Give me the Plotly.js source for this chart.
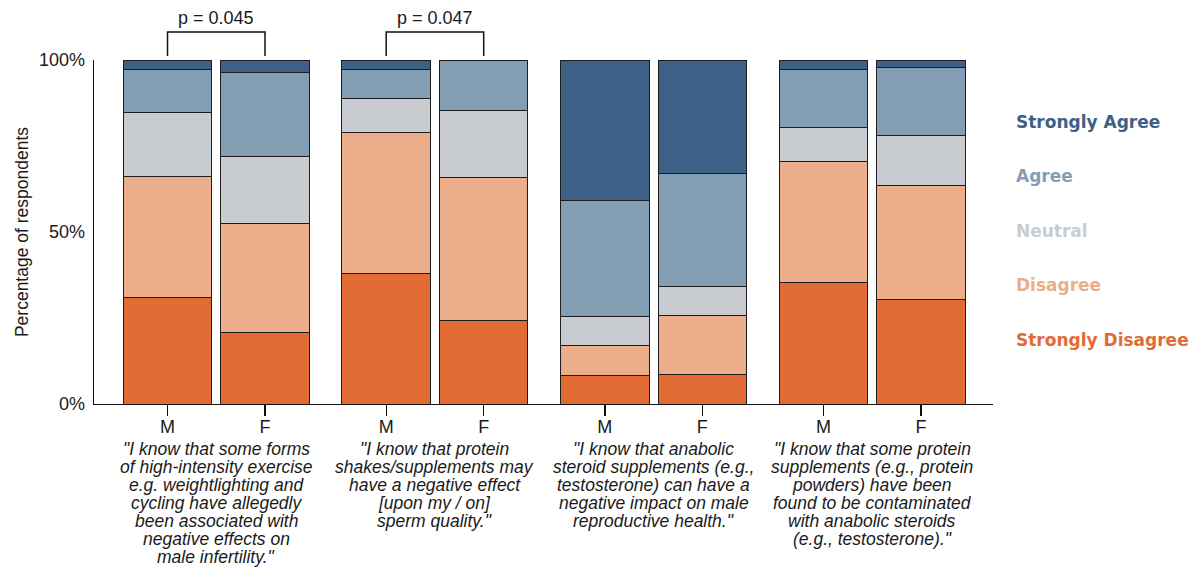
<!DOCTYPE html>
<html>
<head>
<meta charset="utf-8">
<script src="https://cdn.plot.ly/plotly-3.0.1.min.js"></script>
<style>html,body{margin:0;padding:0;background:#fff;}#chart{width:1200px;height:569px;}</style>
</head>
<body>
<div id="chart"></div>
<script>
// ---- data ----
const sexes = ["M", "F"];
const statements = [
  ["\"I know that some forms", "of high-intensity exercise", "e.g. weightlighting and", "cycling have allegedly", "been associated with", "negative effects on", "male infertility.\""],
  ["\"I know that protein", "shakes/supplements may", "have a negative effect", "[upon my / on]", "sperm quality.\""],
  ["\"I know that anabolic", "steroid supplements (e.g.,", "testosterone) can have a", "negative impact on male", "reproductive health.\""],
  ["\"I know that some protein", "supplements (e.g., protein", "powders) have been", "found to be contaminated", "with anabolic steroids", "(e.g., testosterone).\""]
];
const levels = ["Strongly Disagree", "Disagree", "Neutral", "Agree", "Strongly Agree"];
const levelColors = ["#e26b33", "#ecae8a", "#c8ccd0", "#839db3", "#3d6186"];
// order of bars: S1 M, S1 F, S2 M, S2 F, S3 M, S3 F, S4 M, S4 F
const stronglyDisagree = [31.0, 20.8, 38.0, 24.4, 8.4, 8.7, 35.2, 30.5];
const disagree         = [35.2, 31.7, 40.9, 41.4, 8.5, 17.0, 35.2, 32.9];
const neutral          = [18.5, 19.5, 9.8, 19.5, 8.4, 8.4, 9.9, 14.7];
const agree            = [12.6, 24.3, 8.6, 14.7, 33.8, 33.0, 17.0, 19.6];
const stronglyAgree    = [2.7, 3.7, 2.7, 0.0, 40.9, 32.9, 2.7, 2.3];
const levelValues = [stronglyDisagree, disagree, neutral, agree, stronglyAgree];
const pValues = [{group: 0, text: "p = 0.045"}, {group: 1, text: "p = 0.047"}];
const yTickVals = [0, 50, 100];
const yTickText = ["0%", "50%", "100%"];

// ---- layout helpers ----
const groupStep = 2.243;
const xPos = [], xLabels = [];
statements.forEach((s, g) => sexes.forEach((sx, k) => { xPos.push(g * groupStep + k); xLabels.push(sx); }));
const groupCenter = g => g * groupStep + 0.5;

const FONT = "'Liberation Sans', Arial, Helvetica, sans-serif";

const traces = levels.map((lv, i) => ({
  type: "bar",
  name: lv,
  x: xPos,
  y: levelValues[i],
  width: 0.908,
  marker: {color: levelColors[i], line: {color: "#1e1e1e", width: 1}},
  showlegend: false,
  hoverinfo: "name+y"
}));

const annotations = [];
// statement text lines
statements.forEach((lines, g) => {
  lines.forEach((ln, i) => {
    annotations.push({
      xref: "x", yref: "paper", x: groupCenter(g), y: 0,
      xanchor: "center", yanchor: "middle", yshift: -(45 + 18 * i),
      text: "<i>" + ln + "</i>", showarrow: false,
      font: {family: FONT, size: 17.5, color: "#1a1a1a"}
    });
  });
});
// legend labels
levels.forEach((lv, i) => {
  annotations.push({
    xref: "paper", yref: "paper", x: 1.0234, y: (404 - (121.5 + 54.5 * (4 - i))) / 344,
    xanchor: "left", yanchor: "middle", showarrow: false,
    text: "<b>" + lv + "</b>",
    font: {family: "'DejaVu Sans', sans-serif", size: 17, color: levelColors[i]}
  });
});
// p-values and brackets
const shapes = [];
pValues.forEach(p => {
  const x0 = xPos[p.group * 2], x1 = xPos[p.group * 2 + 1];
  annotations.push({
    xref: "x", yref: "paper", x: (x0 + x1) / 2, y: (404 - 18) / 344,
    xanchor: "center", yanchor: "middle", showarrow: false, text: p.text,
    font: {family: FONT, size: 18, color: "#1a1a1a"}
  });
  const yTop = (404 - 32) / 344, yBot = (404 - 56) / 344;
  shapes.push({type: "path", xref: "x", yref: "paper",
    path: `M ${x0} ${yBot} L ${x0} ${yTop} L ${x1} ${yTop} L ${x1} ${yBot}`,
    line: {color: "#111", width: 1.5}});
});

const layout = {
  width: 1200, height: 569,
  margin: {l: 94, r: 207, t: 60, b: 165},
  paper_bgcolor: "#fff", plot_bgcolor: "#fff",
  barmode: "stack",
  font: {family: FONT, color: "#1a1a1a"},
  xaxis: {
    range: [-0.754, 8.467], tickmode: "array", tickvals: xPos, ticktext: xLabels,
    showgrid: false, zeroline: false, showline: true, linecolor: "#111", linewidth: 1.3,
    ticks: "outside", ticklen: 11, tickwidth: 1.3, tickcolor: "#111", ticklabelstandoff: -5,
    tickfont: {family: FONT, size: 18, color: "#1a1a1a"}, fixedrange: true
  },
  yaxis: {
    range: [0, 100], tickmode: "array", tickvals: yTickVals, ticktext: yTickText,
    showgrid: false, zeroline: false, showline: true, linecolor: "#111", linewidth: 1.3,
    ticks: "", ticklabelstandoff: 4,
    tickfont: {family: FONT, size: 18, color: "#1a1a1a"},
    title: {text: "Percentage of respondents", font: {family: FONT, size: 17.5, color: "#1a1a1a"}, standoff: 6},
    fixedrange: true
  },
  annotations: annotations,
  shapes: shapes
};

Plotly.newPlot("chart", traces, layout, {displayModeBar: false, staticPlot: true});
</script>
</body>
</html>
